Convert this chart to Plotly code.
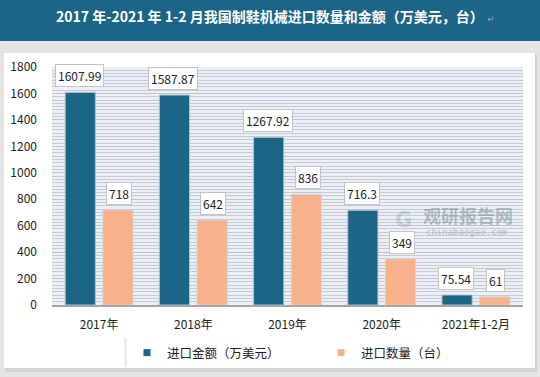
import plotly.graph_objects as go

categories = ["2017年", "2018年", "2019年", "2020年", "2021年1-2月"]
amount = [1607.99, 1587.87, 1267.92, 716.3, 75.54]
qty = [718, 642, 836, 349, 61]
name_amount = "进口金额（万美元）"
name_qty = "进口数量（台）"
title_text = "2017 年-2021 年 1-2 月我国制鞋机械进口数量和金额（万美元，台）"

FONT = "Noto Sans CJK SC"
BLUE = "#1b6587"
SALMON = "#f7b28c"

# plot area in pixels
L, R, T, B = 52, 523, 67, 305
W, H = 540, 377
pw, ph = R - L, B - T
def px(x):
    return (x - L) / pw
def py(y):
    return (B - y) / ph

fig = go.Figure()
fig.add_trace(go.Bar(x=categories, y=amount, name=name_amount, showlegend=False,
                     marker=dict(color=BLUE, line=dict(color="#b9bec4", width=1))))
fig.add_trace(go.Bar(x=categories, y=qty, name=name_qty, showlegend=False,
                     marker=dict(color=SALMON, line=dict(color="#d4d4d4", width=1))))
# legend entries (small square markers like the reference)
fig.add_trace(go.Scatter(x=[None], y=[None], mode="markers", name=name_amount,
                         marker=dict(symbol="square", size=7, color=BLUE)))
fig.add_trace(go.Scatter(x=[None], y=[None], mode="markers", name=name_qty,
                         marker=dict(symbol="square", size=7, color=SALMON)))

annotations = []
for c, a, q in zip(categories, amount, qty):
    for v, shift in ((a, -20), (q, 20)):
        annotations.append(dict(
            x=c, y=v, xref="x", yref="y", text=f"{v:g}", showarrow=False,
            xshift=shift, yshift=5, yanchor="bottom",
            font=dict(family=FONT, size=12, color="#222"),
            bgcolor="white", bordercolor="#c4c4c4", borderwidth=1, borderpad=2))

# title
annotations.append(dict(x=px(270), y=py(16), xref="paper", yref="paper", text="<b>" + title_text + "</b>",
                        showarrow=False, xanchor="center", yanchor="middle",
                        font=dict(family=FONT, size=14, color="white")))
annotations.append(dict(x=px(485), y=py(19), xref="paper", yref="paper", text="↵",
                        showarrow=False, xanchor="left", yanchor="middle",
                        font=dict(family="DejaVu Sans", size=9, color="#9aa7b0")))
# watermark
annotations.append(dict(x=px(468), y=py(215), xref="paper", yref="paper", text="<b>观研报告网</b>",
                        showarrow=False, xanchor="center", yanchor="middle",
                        font=dict(family=FONT, size=18, color="rgba(140,150,160,0.6)")))
annotations.append(dict(x=px(466), y=py(232), xref="paper", yref="paper", text="chinabaogao.com",
                        showarrow=False, xanchor="center", yanchor="middle",
                        font=dict(family="DejaVu Sans Mono", size=9, color="rgba(140,150,160,0.6)")))
annotations.append(dict(x=px(403), y=py(220), xref="paper", yref="paper", text="<b>G</b>",
                        showarrow=False, xanchor="center", yanchor="middle",
                        font=dict(family="DejaVu Sans", size=21, color="rgba(150,160,170,0.4)")))

shapes = [
    # title band
    dict(type="rect", xref="paper", yref="paper", x0=px(-5), x1=px(545), y0=py(41), y1=py(-5),
         fillcolor="#1b6587", line=dict(width=0), layer="below"),
    # panel shadow
    dict(type="rect", xref="paper", yref="paper", x0=px(5), x1=px(537), y0=py(372), y1=py(54),
         fillcolor="#d3d3d3", line=dict(width=0), layer="below"),
    # white panel
    dict(type="rect", xref="paper", yref="paper", x0=px(4), x1=px(535), y0=py(368), y1=py(53),
         fillcolor="white", line=dict(width=0), layer="below"),
    # plot area background
    dict(type="rect", xref="paper", yref="paper", x0=0, x1=1, y0=0, y1=1,
         fillcolor="#eaf0f5", line=dict(width=0), layer="below"),
    # legend shadow
    dict(type="rect", xref="paper", yref="paper", x0=px(124), x1=px(414), y0=py(367), y1=py(338),
         fillcolor="#ececec", line=dict(width=0), layer="below"),
]

fig.update_layout(
    width=W, height=H,
    margin=dict(l=L, r=W - R, t=T, b=H - B, autoexpand=False),
    paper_bgcolor="#e4e4e4",
    plot_bgcolor="rgba(0,0,0,0)",
    barmode="group", bargap=0.2, bargroupgap=0.2,
    font=dict(family=FONT, size=12, color="#333"),
    showlegend=True,
    legend=dict(orientation="h", x=px(127), xanchor="left", y=py(353), yanchor="middle",
                bgcolor="white", borderwidth=0,
                font=dict(family=FONT, size=12.5, color="#222"), itemwidth=30,
                entrywidth=149, entrywidthmode="pixels",
                traceorder="normal"),
    annotations=annotations,
    shapes=shapes,
)
fig.update_yaxes(range=[0, 1800], dtick=200, showgrid=True, gridcolor="#bcc3ca", gridwidth=1,
                 minor=dict(dtick=25, showgrid=True, gridcolor="#c4cbd2", gridwidth=1),
                 ticks="", ticklabelstandoff=14, zeroline=False, showline=False,
                 tickfont=dict(family=FONT, size=12, color="#222"))
fig.update_xaxes(showline=True, linecolor="#a6a6a6", linewidth=2, ticks="",
                 ticklabelstandoff=8, tickfont=dict(family=FONT, size=12, color="#222"))

fig.write_html("out.html", config={"displayModeBar": False},
               post_script="document.body.style.margin='0';document.body.style.overflow='hidden';")
